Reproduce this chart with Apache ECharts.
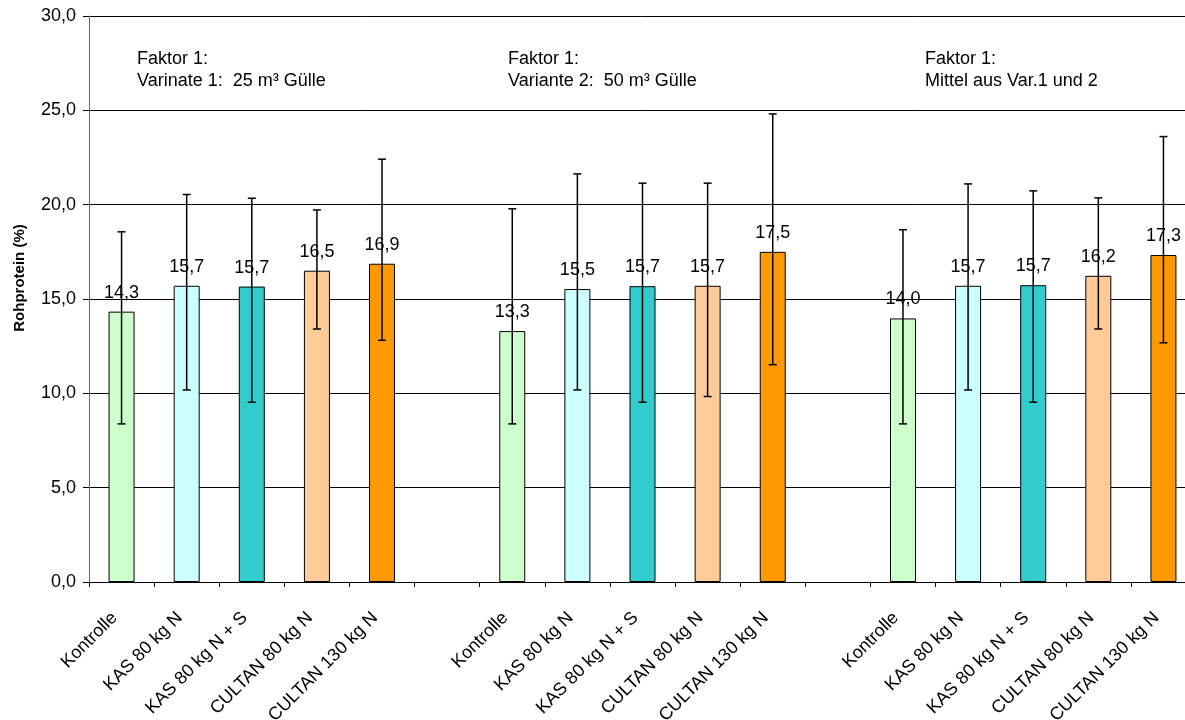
<!DOCTYPE html>
<html>
<head>
<meta charset="utf-8">
<script src="https://cdn.jsdelivr.net/npm/echarts@6/dist/echarts.min.js"></script>
<style>
html,body{margin:0;padding:0;overflow:hidden;background:#fff;}
#chart{width:1196px;height:720px;}
</style>
</head>
<body>
<div id="chart"></div>
<script>
// ---- data ----
const treatments = ['Kontrolle', 'KAS 80 kg N', 'KAS 80 kg N + S', 'CULTAN 80 kg N', 'CULTAN 130 kg N'];
const groupTitles = ['Faktor 1:\nVarinate 1:  25 m³ Gülle', 'Faktor 1:\nVariante 2:  50 m³ Gülle', 'Faktor 1:\nMittel aus Var.1 und 2'];
const meansVar1   = [14.33, 15.70, 15.66, 16.50, 16.87];
const meansVar2   = [13.30, 15.53, 15.68, 15.70, 17.50];
const meansMittel = [13.97, 15.70, 15.73, 16.23, 17.33];
const lowVar1   = [8.38, 10.18, 9.53, 13.41, 12.81];
const highVar1  = [18.56, 20.54, 20.34, 19.72, 22.41];
const lowVar2   = [8.38, 10.18, 9.53, 9.83, 11.52];
const highVar2  = [19.78, 21.63, 21.14, 21.14, 24.81];
const lowMittel = [8.38, 10.18, 9.53, 13.41, 12.68];
const highMittel= [18.67, 21.10, 20.73, 20.36, 23.61];
const yAxisTitle = 'Rohprotein (%)';
const colors = ['#CCFFCC', '#CCFFFF', '#33CCCC', '#FFCC99', '#FF9900'];

// ---- build ----
const groupsMeans = [meansVar1, meansVar2, meansMittel];
const groupsLow = [lowVar1, lowVar2, lowMittel];
const groupsHigh = [highVar1, highVar2, highMittel];
const categories = [];
const barData = [];
const errData = [];
groupsMeans.forEach(function (means, g) {
  if (g > 0) { categories.push(''); barData.push('-'); }
  means.forEach(function (v, i) {
    const idx = categories.length;
    categories.push(treatments[i]);
    barData.push({ value: v, itemStyle: { color: colors[i] } });
    errData.push([idx, groupsLow[g][i], groupsHigh[g][i]]);
  });
});
const fmt = function (v) { return v.toFixed(1).replace('.', ','); };
const FONT = '"Liberation Sans", Arial, sans-serif';

const chart = echarts.init(document.getElementById('chart'));
chart.setOption({
  animation: false,
  grid: { left: 89, right: 0, top: 16, bottom: 138, containLabel: false, outerBoundsMode: 'none' },
  xAxis: {
    type: 'category',
    data: categories,
    boundaryGap: true,
    axisLine: { lineStyle: { color: '#000', width: 1 } },
    axisTick: { show: true, interval: 0, length: 5, lineStyle: { color: '#000' } },
    axisLabel: { interval: 0, rotate: 45, margin: 26, padding: [0, 10, 0, 0], color: '#000', fontSize: 18, fontFamily: FONT },
    splitLine: { show: false }
  },
  yAxis: {
    type: 'value',
    min: 0, max: 30, interval: 5,
    axisLine: { show: true, lineStyle: { color: '#666', width: 1 } },
    axisTick: { show: true, length: 6, lineStyle: { color: '#000' } },
    axisLabel: { formatter: fmt, margin: 13, color: '#000', fontSize: 18, fontFamily: FONT },
    splitLine: { show: true, lineStyle: { color: '#000', width: 1 } }
  },
  graphic: [
    { type: 'text', left: 137, top: 48, style: { text: groupTitles[0], font: '18px ' + FONT, fill: '#000', lineHeight: 22 } },
    { type: 'text', left: 508, top: 48, style: { text: groupTitles[1], font: '18px ' + FONT, fill: '#000', lineHeight: 22 } },
    { type: 'text', left: 925, top: 48, style: { text: groupTitles[2], font: '18px ' + FONT, fill: '#000', lineHeight: 22 } },
    { type: 'text', x: 19.5, y: 278, rotation: Math.PI / 2,
      style: { text: yAxisTitle, font: 'bold 15px ' + FONT, fill: '#000', textAlign: 'center', textVerticalAlign: 'middle' } }
  ],
  series: [
    {
      type: 'bar',
      data: barData,
      barWidth: 26,
      itemStyle: { borderColor: '#000', borderWidth: 1 },
      label: {
        show: true, position: 'top', distance: 10,
        formatter: function (p) { return fmt(p.value); },
        color: '#000', fontSize: 18, fontFamily: FONT
      },
      z: 2
    },
    {
      type: 'custom',
      data: errData,
      encode: { x: 0, y: [1, 2] },
      z: 5,
      renderItem: function (params, api) {
        const idx = api.value(0);
        const lo = api.coord([idx, api.value(1)]);
        const hi = api.coord([idx, api.value(2)]);
        const hw = 4;
        const st = { stroke: '#000', lineWidth: 1.5 };
        return {
          type: 'group',
          children: [
            { type: 'line', shape: { x1: hi[0], y1: hi[1], x2: lo[0], y2: lo[1] }, style: st },
            { type: 'line', shape: { x1: hi[0] - hw, y1: hi[1], x2: hi[0] + hw, y2: hi[1] }, style: st },
            { type: 'line', shape: { x1: lo[0] - hw, y1: lo[1], x2: lo[0] + hw, y2: lo[1] }, style: st }
          ]
        };
      }
    }
  ]
});
</script>
</body>
</html>
